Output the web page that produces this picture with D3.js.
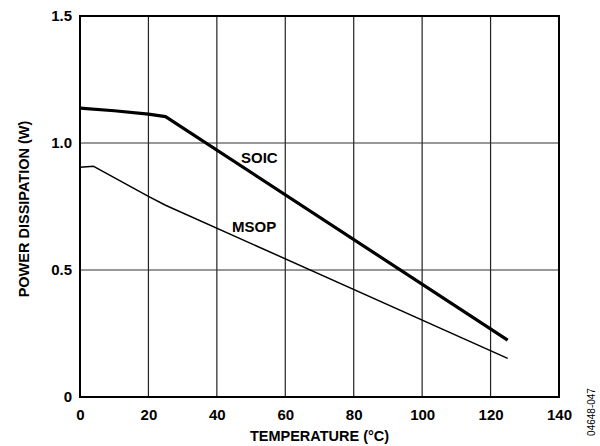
<!DOCTYPE html>
<html><head><meta charset="utf-8">
<script src="https://cdn.jsdelivr.net/npm/d3@7"></script>
<style>body{margin:0;background:#fff}svg{display:block}text{font-family:"Liberation Sans",Arial,sans-serif}</style>
</head><body>
<svg id="c" width="600" height="446"></svg>
<script>
const xTicks = [0, 20, 40, 60, 80, 100, 120, 140];
const yTicks = [0, 0.5, 1.0, 1.5];
const yTickLabels = ["0", "0.5", "1.0", "1.5"];
const soicTemp = [0, 10, 20, 25, 125];
const soicPower = [1.137, 1.127, 1.114, 1.104, 0.224];
const msopTemp = [0, 4, 20, 25, 125];
const msopPower = [0.905, 0.908, 0.79, 0.755, 0.152];
const seriesNames = ["SOIC", "MSOP"];
const xTitle = "TEMPERATURE (°C)";
const yTitle = "POWER DISSIPATION (W)";
const figId = "04648-047";

const svg = d3.select("#c");
const L = 80, R = 559, T = 16, B = 397;
const x = d3.scaleLinear().domain([0, 140]).range([L, R]);
const y = d3.scaleLinear().domain([0, 1.5]).range([B, T]);

// grid
const g = svg.append("g");
g.selectAll(".vg").data(xTicks.slice(1, -1)).join("line")
  .attr("x1", d => x(d)).attr("x2", d => x(d)).attr("y1", T).attr("y2", B)
  .attr("stroke", "#222").attr("stroke-width", 1.2);
g.selectAll(".hg").data(yTicks.slice(1, -1)).join("line")
  .attr("x1", L).attr("x2", R).attr("y1", d => y(d)).attr("y2", d => y(d))
  .attr("stroke", "#333").attr("stroke-width", 1.2);

// axes via d3
const xAxis = svg.append("g").attr("transform", `translate(0,${B})`)
  .call(d3.axisBottom(x).tickValues(xTicks).tickSize(0).tickPadding(12).tickFormat(d3.format("d")));
const yAxis = svg.append("g").attr("transform", `translate(${L},0)`)
  .call(d3.axisLeft(y).tickValues(yTicks).tickSize(0).tickPadding(8).tickFormat((d, i) => yTickLabels[i]));
[xAxis, yAxis].forEach(a => {
  a.select(".domain").remove();
  a.selectAll("text").attr("font-size", 15).attr("font-weight", "bold").attr("fill", "#000")
    .style("font-family", '"Liberation Sans",Arial,sans-serif');
});

// frame
svg.append("rect").attr("x", L).attr("y", T).attr("width", R - L).attr("height", B - T)
  .attr("fill", "none").attr("stroke", "#000").attr("stroke-width", 2);

// lines
const line = d3.line().x(d => x(d[0])).y(d => y(d[1]));
svg.append("path").datum(soicTemp.map((t, i) => [t, soicPower[i]])).attr("d", line)
  .attr("fill", "none").attr("stroke", "#000").attr("stroke-width", 3.2).attr("stroke-linejoin", "round");
svg.append("path").datum(msopTemp.map((t, i) => [t, msopPower[i]])).attr("d", line)
  .attr("fill", "none").attr("stroke", "#000").attr("stroke-width", 1.5).attr("stroke-linejoin", "round");

// series labels
svg.append("text").attr("x", 241).attr("y", 163).attr("font-size", 15).attr("font-weight", "bold").text(seriesNames[0]);
svg.append("text").attr("x", 232).attr("y", 232).attr("font-size", 15).attr("font-weight", "bold").text(seriesNames[1]);

// titles
svg.append("text").attr("x", (L + R) / 2).attr("y", 441).attr("text-anchor", "middle")
  .attr("font-size", 14.5).attr("font-weight", "bold").text(xTitle);
svg.append("text").attr("transform", `translate(29,209) rotate(-90)`).attr("text-anchor", "middle")
  .attr("font-size", 14.5).attr("font-weight", "bold").text(yTitle);
svg.append("text").attr("transform", `translate(595,412) rotate(-90)`).attr("text-anchor", "middle")
  .attr("font-size", 10).text(figId);
</script>
</body></html>
